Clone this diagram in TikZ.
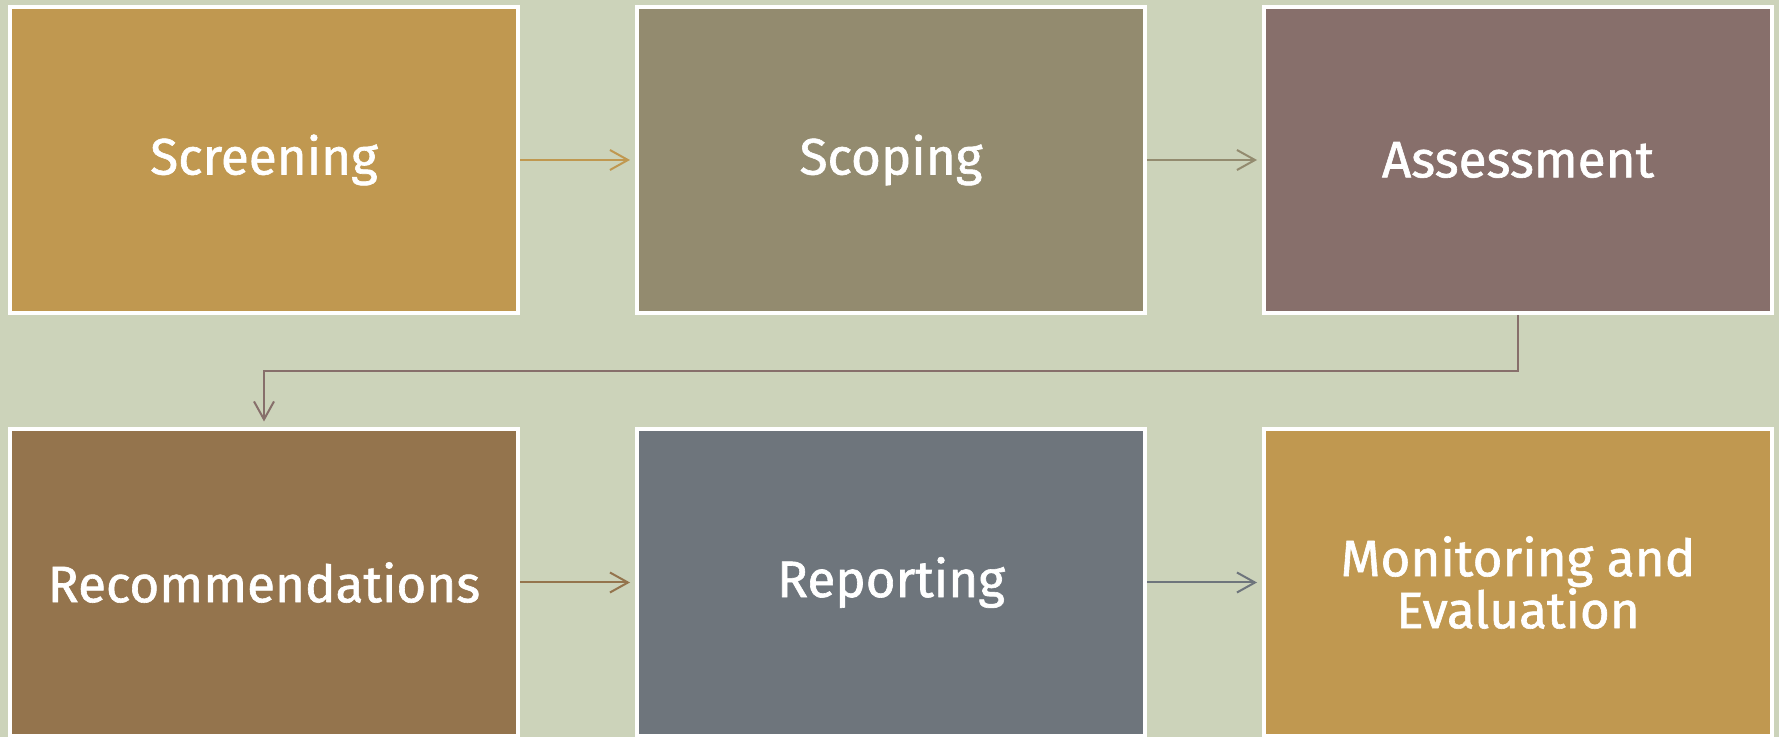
\documentclass[tikz,border=0pt]{standalone}
\usepackage{fontspec}
\setmainfont{Fira Sans}
\newfontfamily\stagefont[FakeBold=1.2]{Fira Sans}
\usetikzlibrary{arrows.meta}

\definecolor{bgsage}{HTML}{CCD3BA}
\definecolor{gold}{HTML}{C09850}
\definecolor{olive}{HTML}{938B6F}
\definecolor{mauve}{HTML}{876F6B}
\definecolor{umber}{HTML}{94744D}
\definecolor{slate}{HTML}{6E757C}

\tikzset{
  stage/.style={draw=white, line width=2pt, rectangle,
    minimum width=254pt, minimum height=153pt, inner sep=0pt,
    text=white, align=center,
    font=\stagefont\fontsize{25.6}{26}\selectfont},
  flow/.style={line width=1pt, -{Straight Barb[length=9pt,width=10pt,line width=1pt]},
    shorten >=2.5pt}
}

\begin{document}
\begin{tikzpicture}[x=0.5pt,y=-0.5pt]
  % canvas
  \fill[bgsage] (0,0) rectangle (1779,737);
  \useasboundingbox (0,0) rectangle (1779,737);

  % process stages
  \node[stage, fill=gold]  (scr) at (264,160)    {Screening};
  \node[stage, fill=olive] (sco) at (891,160)    {Scoping};
  \node[stage, fill=mauve] (ass) at (1518,160)   {Assessment};
  \node[stage, fill=umber] (rec) at (264,582.5)  {Recommendations};
  \node[stage, fill=slate] (rep) at (891,582.5)  {Reporting};
  \node[stage, fill=gold]  (mon) at (1518,582.5) {Monitoring and\\Evaluation};

  % connectors
  \draw[flow, gold]  (scr.east) -- (sco.west);
  \draw[flow, olive] (sco.east) -- (ass.west);
  \coordinate (turn) at (0,371);
  \draw[flow, mauve, shorten >=3pt] (ass.south) -- (ass.south |- turn) -| (rec.north);
  \draw[flow, umber] (rec.east) -- (rep.west);
  \draw[flow, slate] (rep.east) -- (mon.west);
\end{tikzpicture}
\end{document}
